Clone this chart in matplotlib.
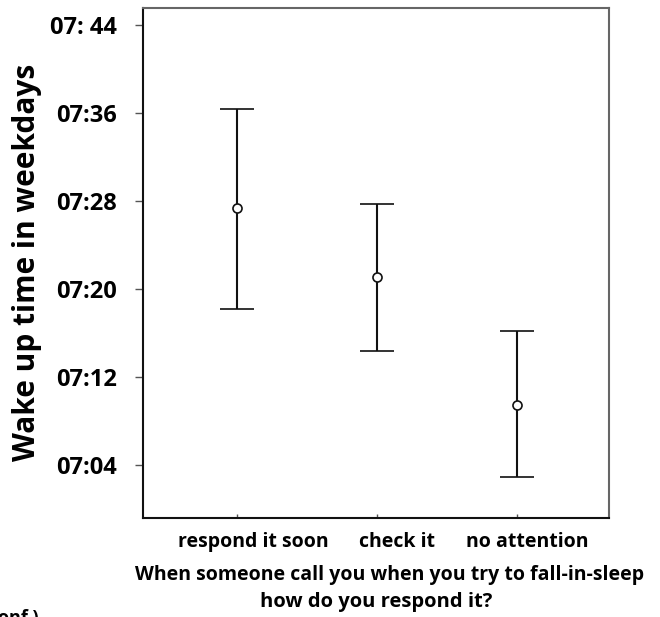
import matplotlib
matplotlib.use("Agg")
import matplotlib.pyplot as plt
import matplotlib.transforms as mtransforms
import numpy as np

categories = ["respond it soon", "check it", "no attention"]
# minutes after midnight
mean_min = [447.36, 441.09, 429.45]
upper_min = [456.36, 447.73, 436.18]
lower_min = [438.18, 434.36, 422.91]
ytick_min = [424, 432, 440, 448, 456, 464]
ytick_labels = ["07:04", "07:12", "07:20", "07:28", "07:36", "07: 44"]

plt.rcParams['font.family'] = ['Open Sans', 'DejaVu Sans']

fig = plt.figure(figsize=(6.6, 6.17), dpi=100)
ax = fig.add_axes([143/660, 1 - 518/617, (609-143)/660, (518-8)/617])

x = np.arange(1, len(categories) + 1)
mean = np.array(mean_min)
yerr = np.vstack([mean - np.array(lower_min), np.array(upper_min) - mean])
ax.errorbar(x, mean, yerr=yerr, fmt='o', color='#111111', mfc='white', mec='#111111',
            markersize=6.5, mew=1.2, elinewidth=1.5, capsize=12.5, capthick=1.5)

ax.set_xlim(0.326, 3.66)
ax.set_ylim(424 - 53/11, 464 + 17/11)

ax.set_yticks(ytick_min)
ax.set_yticklabels(ytick_labels, fontsize=17, fontweight='bold')
ax.set_xticks(x)
ax.set_xticklabels(categories, fontsize=14, fontweight='bold', va='baseline')
ax.tick_params(axis='y', direction='out', length=6, width=1, pad=13, colors='#555555', labelcolor='black')
ax.tick_params(axis='x', direction='in', length=3, width=1, pad=21, colors='#555555', labelcolor='black')

offsets = [16, 20, 10]
for lab, off in zip(ax.get_xticklabels(), offsets):
    lab.set_transform(lab.get_transform() + mtransforms.ScaledTranslation(off/100, 0, fig.dpi_scale_trans))

for s in ['left', 'bottom']:
    ax.spines[s].set_color('#111111')
    ax.spines[s].set_linewidth(1.5)
for s in ['top', 'right']:
    ax.spines[s].set_color('#666666')
    ax.spines[s].set_linewidth(1.5)

fig.text(27/660, 1 - 262/617, "Wake up time in weekdays", rotation=90, ha='center', va='center',
         fontsize=21.5, fontweight='bold')
fig.text(390/660, 1 - 575/617, "When someone call you when you try to fall-in-sleep", ha='center', va='center',
         fontsize=14, fontweight='bold')
fig.text(376/660, 1 - 602/617, "how do you respond it?", ha='center', va='center',
         fontsize=14.5, fontweight='bold')
fig.text(-2/660, 1 - 618/617, "onf )", ha='left', va='center', fontsize=13, fontweight='bold')

fig.savefig("out.png", dpi=100)
